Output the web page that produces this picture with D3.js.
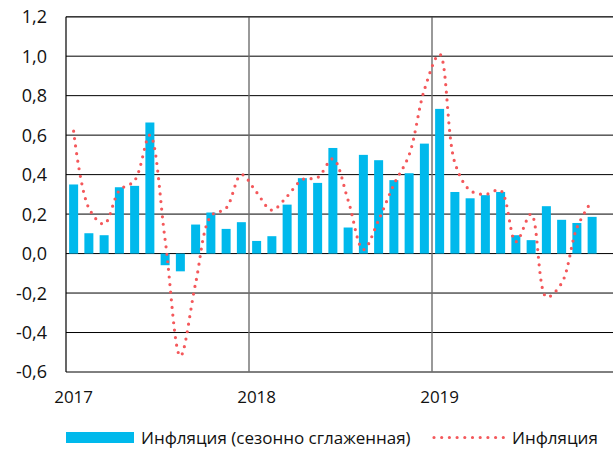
<!DOCTYPE html>
<html lang="ru">
<head>
<meta charset="utf-8">
<title>Инфляция</title>
<script src="https://d3js.org/d3.v7.min.js"></script>
<style>
body { margin: 0; background: #fff; }
svg { display: block; font-family: "Open Sans", sans-serif; }
.grid line { stroke: #000; stroke-width: 1; }
.label { font-size: 17px; fill: #111; }
.ylabel { font-size: 18px; fill: #111; }
</style>
</head>
<body>
<script>

// years shown on the x axis, months run Jan 2017 .. Nov 2019
var years = [2017, 2018, 2019];
var allMonths = [];
years.forEach(function(yr) {
  for (var m = 1; m <= 12; m++) allMonths.push(yr + "-" + m);
});
var months = allMonths.slice(0, 35);

// seasonally adjusted inflation (bars), % m/m
var barValues = [
  0.35, 0.103, 0.093, 0.336, 0.343, 0.664, -0.059, -0.09, 0.147, 0.208, 0.125, 0.159,
  0.064, 0.088, 0.248, 0.382, 0.358, 0.535, 0.132, 0.50, 0.473, 0.372, 0.407, 0.557,
  0.733, 0.312, 0.28, 0.296, 0.312, 0.093, 0.068, 0.24, 0.171, 0.155, 0.186
];

// inflation (dotted line), % m/m
var lineValues = [
  0.62, 0.23, 0.15, 0.32, 0.37, 0.60, 0.07, -0.52, -0.15, 0.19, 0.23, 0.40,
  0.31, 0.22, 0.29, 0.375, 0.385, 0.48, 0.27, 0.02, 0.17, 0.35, 0.50, 0.83,
  1.01, 0.46, 0.32, 0.30, 0.32, 0.06, 0.20, -0.22, -0.15, 0.13, 0.27
];

var yTicks = [-0.6, -0.4, -0.2, 0, 0.2, 0.4, 0.6, 0.8, 1.0, 1.2];
var seriesNames = ["Инфляция (сезонно сглаженная)", "Инфляция"];

var width = 613, height = 450;
var plotLeft = 66, plotTop = 16.7, plotW = 549, plotBottom = 372;

var svg = d3.select("body").append("svg")
    .attr("width", width)
    .attr("height", height);

// 36 monthly bands, the last one (Dec 2019) is empty and runs off the edge
var x = d3.scaleBand().domain(allMonths).range([plotLeft, plotLeft + plotW]).paddingInner(0.41).paddingOuter(0.205);
var xc = d3.scaleBand().domain(allMonths).range([plotLeft, plotLeft + plotW]);
var y = d3.scaleLinear().domain([-0.6, 1.2]).range([plotBottom, plotTop]);

var fmt = function(d) { return d3.format(".1f")(d).replace(".", ",").replace("−", "-"); };

// horizontal grid
svg.append("g").attr("class", "grid")
  .selectAll("line").data(yTicks).join("line")
    .attr("x1", plotLeft).attr("x2", plotLeft + plotW)
    .attr("y1", d => y(d)).attr("y2", d => y(d));

// year separators
svg.append("g")
  .selectAll("line").data(years.slice(1)).join("line")
    .attr("x1", d => xc(d + "-1")).attr("x2", d => xc(d + "-1"))
    .attr("y1", plotTop).attr("y2", plotBottom)
    .attr("stroke", "#6e6e6e").attr("stroke-width", 1.4);

// bars
svg.append("g")
  .selectAll("rect").data(barValues).join("rect")
    .attr("x", (d, i) => x(months[i]))
    .attr("width", x.bandwidth())
    .attr("y", d => y(Math.max(0, d)))
    .attr("height", d => Math.abs(y(d) - y(0)))
    .attr("fill", "#00b9ec");

// dotted line
var line = d3.line()
    .x((d, i) => xc(months[i]) + xc.bandwidth() / 2)
    .y(d => y(d))
    .curve(d3.curveCatmullRom.alpha(0.5));

svg.append("path")
    .datum(lineValues)
    .attr("d", line)
    .attr("fill", "none")
    .attr("stroke", "#f4585b")
    .attr("stroke-width", 3.2)
    .attr("stroke-linecap", "round")
    .attr("stroke-dasharray", "0 7.6");

// frame
svg.append("line").attr("x1", plotLeft).attr("x2", plotLeft + plotW).attr("y1", plotTop).attr("y2", plotTop)
    .attr("stroke", "#3a3a3a").attr("stroke-width", 1.6);
svg.append("line").attr("x1", plotLeft).attr("x2", plotLeft).attr("y1", plotTop).attr("y2", plotBottom)
    .attr("stroke", "#000").attr("stroke-width", 1.2);

// y labels
svg.append("g")
  .selectAll("text").data(yTicks).join("text")
    .attr("class", "ylabel")
    .attr("x", 47)
    .attr("y", d => y(d))
    .attr("dy", "0.36em")
    .attr("text-anchor", "end")
    .text(fmt);

// x labels (January of each year)
svg.append("g")
  .selectAll("text").data(years).join("text")
    .attr("class", "label")
    .attr("x", d => xc(d + "-1") + xc.bandwidth() / 2)
    .attr("y", 403)
    .attr("text-anchor", "middle")
    .text(d => d);

// legend
var lg = svg.append("g");
lg.append("rect").attr("x", 66).attr("y", 432).attr("width", 68).attr("height", 11).attr("fill", "#00b9ec");
lg.append("text").attr("class", "label").attr("x", 141).attr("y", 444).text(seriesNames[0]);
lg.append("line").attr("x1", 434).attr("x2", 504).attr("y1", 437.5).attr("y2", 437.5)
    .attr("stroke", "#f4585b").attr("stroke-width", 3.2)
    .attr("stroke-linecap", "round").attr("stroke-dasharray", "0 7.7");
lg.append("text").attr("class", "label").attr("x", 512).attr("y", 444).text(seriesNames[1]);

</script>
</body>
</html>
